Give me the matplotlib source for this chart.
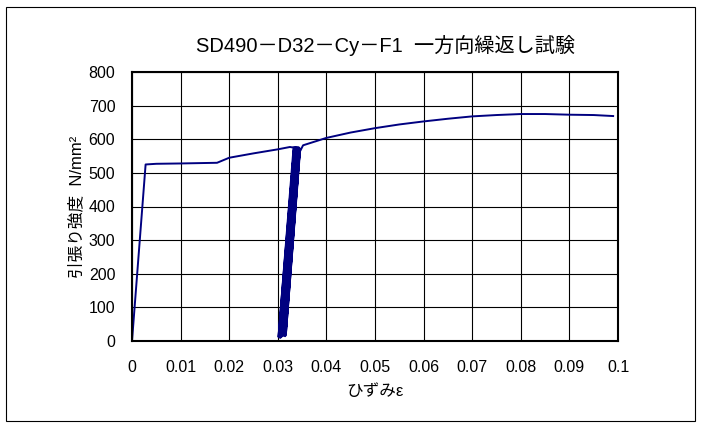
import matplotlib
matplotlib.use("Agg")
import matplotlib.pyplot as plt
from matplotlib.patches import Rectangle

plt.rcParams['font.family'] = ['Liberation Sans', 'Noto Sans CJK JP', 'DejaVu Sans']

# monotonic envelope (before cycles)
pre_strain = [0.0, 0.0028, 0.005, 0.010, 0.0175, 0.020, 0.025, 0.030, 0.0325, 0.0333]
pre_stress = [0, 525, 527, 528, 530, 545, 558, 570, 577, 575]

# repeated unloading/reloading cycles
cyc_strain = [0.0333, 0.0302, 0.0334, 0.0304, 0.0336, 0.0305, 0.0337, 0.0307, 0.0338,
              0.0308, 0.0340, 0.0310, 0.0341, 0.0311, 0.0342, 0.0313, 0.0343, 0.0314,
              0.0344, 0.0315, 0.0345, 0.0316, 0.0345]
cyc_stress = [575, 12, 574, 15, 575, 10, 573, 18, 576, 14, 574, 20, 575, 16, 573, 22,
              575, 25, 570, 15, 572, 20, 562]

# post-cycle envelope
post_strain = [0.0345, 0.0352, 0.040, 0.045, 0.050, 0.055, 0.060, 0.065, 0.070, 0.075,
               0.080, 0.085, 0.090, 0.095, 0.099]
post_stress = [562, 582, 604, 620, 633, 644, 653, 661, 668, 672, 675, 675, 673, 672, 669]

xticks = [0, 0.01, 0.02, 0.03, 0.04, 0.05, 0.06, 0.07, 0.08, 0.09, 0.1]
xticklabels = ['0', '0.01', '0.02', '0.03', '0.04', '0.05', '0.06', '0.07', '0.08', '0.09', '0.1']
yticks = [0, 100, 200, 300, 400, 500, 600, 700, 800]

fig = plt.figure(figsize=(7.02, 4.28), dpi=100)
fig.patches.append(Rectangle((6/702, 7/428), 689/702, 414/428, transform=fig.transFigure,
                             fill=False, edgecolor='black', linewidth=0.8))
ax = fig.add_axes([132/702, (428-341)/428, (618-132)/702, (341-72)/428])

col = '#000080'
ax.plot(pre_strain, pre_stress, color=col, lw=1.4)
ax.plot(cyc_strain, cyc_stress, color=col, lw=1.8)
ax.plot(post_strain, post_stress, color=col, lw=1.4)

ax.set_xlim(0, 0.1)
ax.set_ylim(0, 800)
ax.set_xticks(xticks)
ax.set_xticklabels(xticklabels)
ax.set_yticks(yticks)
ax.grid(True, color='black', linewidth=0.8)
ax.tick_params(length=0, labelsize=11.5)
ax.tick_params(axis='x', pad=14)
ax.tick_params(axis='y', pad=12)
for s in ax.spines.values():
    s.set_linewidth(1.5)
    s.set_color('black')

ax.set_xlabel('ひずみε', fontsize=12, labelpad=6)
ax.set_ylabel('引張り強度  N/mm²', fontsize=12, labelpad=3)
fig.text(386/702, 1 - 45/428, 'SD490－D32－Cy－F1  一方向繰返し試験', ha='center', va='center', fontsize=14.5)

fig.savefig('out.png', dpi=100)
